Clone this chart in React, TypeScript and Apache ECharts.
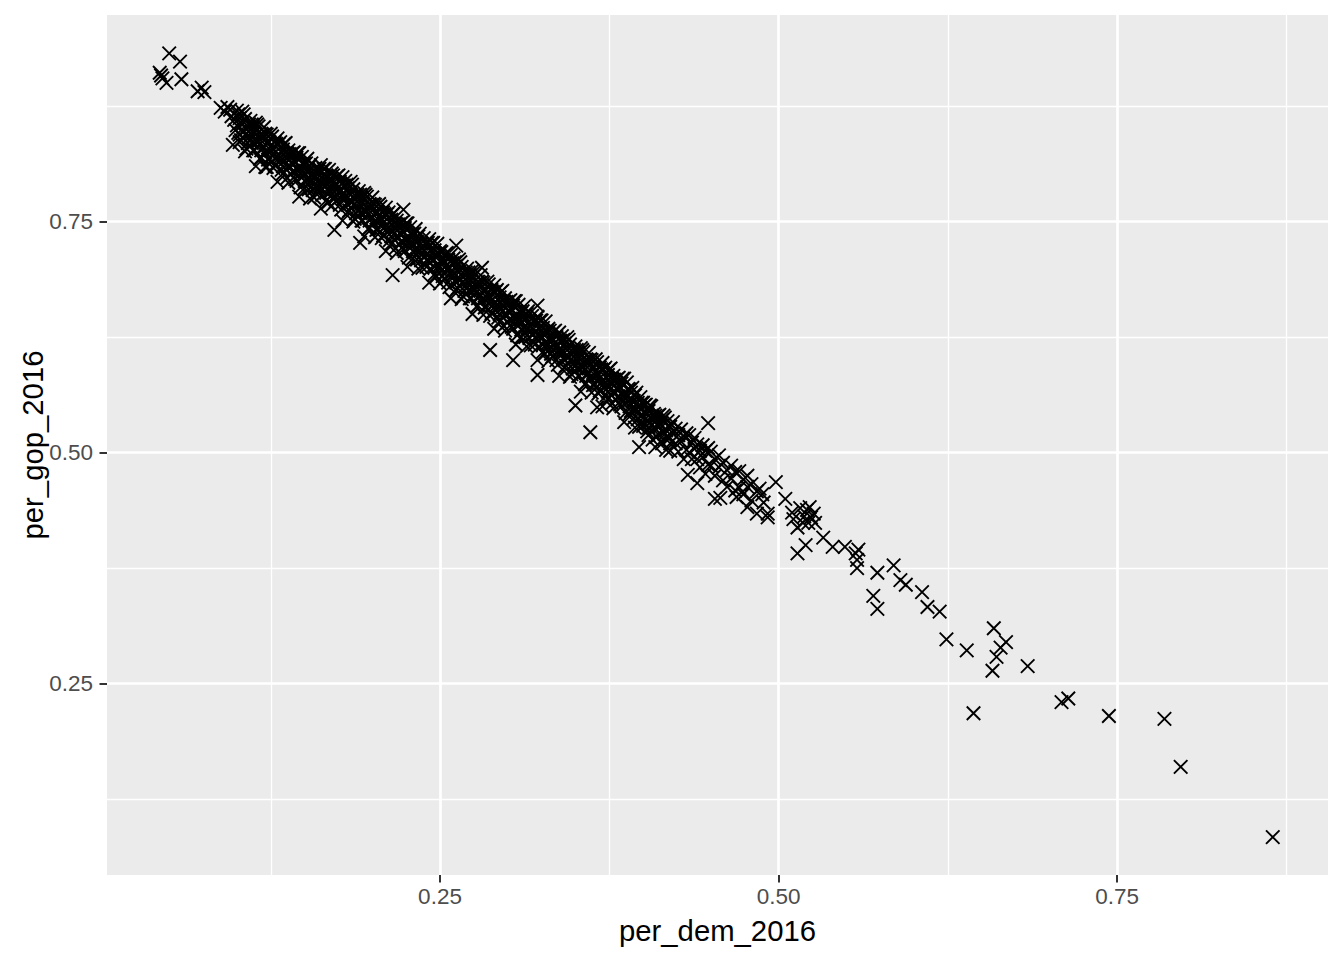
import React, { useEffect, useRef } from "react";
import * as echarts from "echarts";

// per_dem_2016 / per_gop_2016 pairs
const topCounties = [
  [0.043,0.911],[0.050,0.932],[0.058,0.923],[0.045,0.905],[0.048,0.900],[0.044,0.908],[0.059,0.904],
  [0.074,0.895],[0.076,0.890],[0.071,0.891],[0.088,0.873],[0.093,0.874],[0.095,0.871],[0.096,0.864],
  [0.097,0.833],[0.099,0.849],[0.091,0.869],[0.098,0.860],[0.121,0.809]
];

const bandA = [
  [0.100,0.870],[0.100,0.854],[0.102,0.862],[0.102,0.844],[0.102,0.836],[0.104,0.869],[0.104,0.855],
  [0.106,0.844],[0.106,0.861],[0.106,0.826],[0.108,0.853],[0.108,0.835],[0.110,0.859],[0.110,0.846],[0.110,0.839],
  [0.112,0.827],[0.112,0.852],[0.114,0.857],[0.114,0.837],[0.114,0.810],[0.116,0.853],[0.116,0.837],
  [0.118,0.845],[0.118,0.827],[0.118,0.819],[0.120,0.852],[0.120,0.838],[0.122,0.827],[0.122,0.844],[0.122,0.809],
  [0.124,0.836],[0.124,0.818],[0.126,0.842],[0.126,0.829],[0.126,0.822],[0.128,0.811],[0.128,0.836],
  [0.130,0.840],[0.130,0.820],[0.130,0.793],[0.132,0.836],[0.132,0.820],[0.134,0.828],[0.134,0.810],[0.134,0.802],
  [0.136,0.835],[0.136,0.821],[0.138,0.810],[0.138,0.827],[0.138,0.792],[0.140,0.819],[0.140,0.801],
  [0.142,0.825],[0.142,0.812],[0.142,0.805],[0.144,0.794],[0.144,0.819],[0.146,0.824],[0.146,0.804],[0.146,0.777],
  [0.148,0.820],[0.148,0.804],[0.150,0.812],[0.150,0.794],[0.150,0.786],[0.152,0.818],[0.152,0.804],
  [0.154,0.793],[0.154,0.810],[0.154,0.775],[0.156,0.802],[0.156,0.784],[0.158,0.808],[0.158,0.795],[0.158,0.788],
  [0.160,0.781],[0.160,0.806],[0.162,0.811],[0.162,0.791],[0.162,0.764],[0.164,0.807],[0.164,0.791],
  [0.166,0.799],[0.166,0.781],[0.166,0.773],[0.168,0.806],[0.168,0.792],[0.170,0.785],[0.170,0.802],[0.170,0.767],
  [0.172,0.793],[0.172,0.775],[0.172,0.741],[0.174,0.799],[0.174,0.786],[0.174,0.779],[0.176,0.768],[0.176,0.793],
  [0.178,0.798],[0.178,0.778],[0.178,0.751],[0.180,0.794],[0.180,0.778],[0.182,0.786],[0.182,0.768],[0.182,0.760],
  [0.184,0.793],[0.184,0.779],[0.186,0.768],[0.186,0.785],[0.186,0.750],[0.188,0.777],[0.188,0.759],
  [0.190,0.783],[0.190,0.770],[0.190,0.763],[0.191,0.727],[0.192,0.751],[0.192,0.776],[0.194,0.781],[0.194,0.761],
  [0.194,0.734],[0.196,0.777],[0.196,0.761],[0.198,0.769],[0.198,0.751],[0.198,0.743]
];

const bandA2 = [
  [0.101,0.866],[0.101,0.846],[0.103,0.857],[0.103,0.838],[0.105,0.866],[0.105,0.848],[0.107,0.850],[0.107,0.829],
  [0.109,0.855],[0.109,0.841],[0.111,0.855],[0.111,0.835],[0.113,0.846],[0.113,0.827],[0.115,0.855],[0.115,0.837],
  [0.117,0.839],[0.117,0.818],[0.119,0.844],[0.119,0.830],[0.121,0.845],[0.121,0.825],[0.123,0.836],[0.123,0.817],
  [0.125,0.845],[0.125,0.827],[0.127,0.829],[0.127,0.808],[0.129,0.834],[0.129,0.820],[0.131,0.834],[0.131,0.814],
  [0.133,0.825],[0.133,0.806],[0.135,0.834],[0.135,0.816],[0.137,0.818],[0.137,0.797],[0.139,0.823],[0.139,0.809],
  [0.141,0.824],[0.141,0.804],[0.143,0.815],[0.143,0.796],[0.145,0.824],[0.145,0.806],[0.147,0.808],[0.147,0.787],
  [0.149,0.813],[0.149,0.799],[0.151,0.813],[0.151,0.793],[0.153,0.804],[0.153,0.785],[0.155,0.813],[0.155,0.795],
  [0.157,0.797],[0.157,0.776],[0.159,0.802],[0.159,0.788],[0.161,0.807],[0.161,0.787],[0.163,0.798],[0.163,0.779],
  [0.165,0.807],[0.165,0.789],[0.167,0.791],[0.167,0.770],[0.169,0.796],[0.169,0.782],[0.171,0.800],[0.171,0.780],
  [0.173,0.791],[0.173,0.772],[0.175,0.800],[0.175,0.782],[0.177,0.784],[0.177,0.763],[0.179,0.789],[0.179,0.775],
  [0.181,0.790],[0.181,0.770],[0.183,0.781],[0.183,0.762],[0.185,0.790],[0.185,0.772],[0.187,0.774],[0.187,0.753],
  [0.189,0.779],[0.189,0.765],[0.191,0.779],[0.191,0.759],[0.193,0.770],[0.193,0.751],[0.195,0.779],[0.195,0.761],
  [0.197,0.763],[0.197,0.742],[0.199,0.768],[0.199,0.754]
];

const bandB = [
  [0.200,0.776],[0.200,0.762],[0.202,0.751],[0.202,0.768],[0.202,0.733],[0.204,0.760],[0.204,0.742],
  [0.206,0.766],[0.206,0.753],[0.206,0.746],[0.208,0.735],[0.208,0.760],[0.210,0.765],[0.210,0.745],[0.210,0.718],
  [0.212,0.760],[0.212,0.744],[0.214,0.752],[0.214,0.734],[0.214,0.726],[0.216,0.759],[0.216,0.745],[0.215,0.692],
  [0.218,0.734],[0.218,0.751],[0.218,0.716],[0.220,0.743],[0.220,0.725],[0.222,0.749],[0.222,0.736],[0.222,0.729],
  [0.223,0.763],[0.224,0.718],[0.224,0.743],[0.226,0.748],[0.226,0.728],[0.226,0.701],[0.228,0.744],[0.228,0.728],
  [0.230,0.736],[0.230,0.718],[0.230,0.710],[0.232,0.742],[0.232,0.728],[0.234,0.717],[0.234,0.734],[0.234,0.699],
  [0.236,0.726],[0.236,0.708],[0.238,0.732],[0.238,0.719],[0.238,0.712],[0.240,0.701],[0.240,0.726],
  [0.242,0.731],[0.242,0.711],[0.242,0.684],[0.244,0.727],[0.244,0.711],[0.246,0.719],[0.246,0.701],[0.246,0.693],
  [0.248,0.726],[0.248,0.712],[0.250,0.701],[0.250,0.718],[0.250,0.683],[0.252,0.709],[0.252,0.691],
  [0.254,0.715],[0.254,0.702],[0.254,0.695],[0.256,0.684],[0.256,0.709],[0.258,0.714],[0.258,0.694],[0.258,0.667],
  [0.260,0.710],[0.260,0.694],[0.262,0.702],[0.262,0.684],[0.262,0.676],[0.262,0.724],[0.264,0.709],[0.264,0.695],
  [0.266,0.684],[0.266,0.701],[0.266,0.666],[0.268,0.693],[0.268,0.675],[0.270,0.699],[0.270,0.686],[0.270,0.679],
  [0.272,0.667],[0.272,0.692],[0.274,0.697],[0.274,0.677],[0.274,0.650],[0.276,0.693],[0.276,0.677],
  [0.278,0.685],[0.278,0.667],[0.278,0.659],[0.280,0.692],[0.280,0.678],[0.281,0.700],[0.282,0.667],[0.282,0.684],
  [0.282,0.649],[0.284,0.676],[0.284,0.658],[0.286,0.682],[0.286,0.669],[0.286,0.662],[0.287,0.611],
  [0.288,0.651],[0.288,0.676],[0.290,0.681],[0.290,0.661],[0.290,0.634],[0.292,0.676],[0.292,0.660],
  [0.294,0.668],[0.294,0.650],[0.294,0.642],[0.296,0.675],[0.296,0.661],[0.298,0.650],[0.298,0.667],[0.298,0.632],
  [0.300,0.659],[0.300,0.641]
];

const bandB2 = [
  [0.201,0.769],[0.201,0.749],[0.203,0.760],[0.203,0.741],[0.205,0.769],[0.205,0.751],[0.207,0.753],[0.207,0.732],
  [0.209,0.758],[0.209,0.744],[0.211,0.758],[0.211,0.738],[0.213,0.749],[0.213,0.730],[0.215,0.758],[0.215,0.740],
  [0.217,0.742],[0.217,0.721],[0.219,0.747],[0.219,0.733],[0.221,0.748],[0.221,0.728],[0.223,0.739],[0.223,0.720],
  [0.225,0.748],[0.225,0.730],[0.227,0.732],[0.227,0.711],[0.229,0.737],[0.229,0.723],[0.231,0.737],[0.231,0.717],
  [0.233,0.728],[0.233,0.709],[0.235,0.737],[0.235,0.719],[0.237,0.721],[0.237,0.700],[0.239,0.726],[0.239,0.712],
  [0.241,0.727],[0.241,0.707],[0.243,0.718],[0.243,0.699],[0.245,0.727],[0.245,0.709],[0.247,0.711],[0.247,0.690],
  [0.249,0.716],[0.249,0.702],[0.251,0.717],[0.251,0.697],[0.253,0.707],[0.253,0.688],[0.255,0.716],[0.255,0.698],
  [0.257,0.700],[0.257,0.679],[0.259,0.705],[0.259,0.691],[0.261,0.706],[0.261,0.686],[0.263,0.697],[0.263,0.678],
  [0.265,0.706],[0.265,0.688],[0.267,0.690],[0.267,0.669],[0.269,0.695],[0.269,0.681],[0.271,0.695],[0.271,0.675],
  [0.273,0.686],[0.273,0.667],[0.275,0.695],[0.275,0.677],[0.277,0.679],[0.277,0.658],[0.279,0.684],[0.279,0.670],
  [0.281,0.685],[0.281,0.665],[0.283,0.676],[0.283,0.657],[0.285,0.685],[0.285,0.667],[0.287,0.669],[0.287,0.648],
  [0.289,0.674],[0.289,0.660],[0.291,0.674],[0.291,0.654],[0.293,0.665],[0.293,0.646],[0.295,0.674],[0.295,0.656],
  [0.297,0.658],[0.297,0.637],[0.299,0.663],[0.299,0.649]
];

const bandC = [
  [0.302,0.665],[0.302,0.652],[0.302,0.645],[0.304,0.634],[0.304,0.659],[0.304,0.600],[0.306,0.664],[0.306,0.644],
  [0.306,0.617],[0.308,0.660],[0.308,0.644],[0.310,0.651],[0.310,0.633],[0.310,0.625],[0.312,0.658],[0.312,0.644],
  [0.314,0.633],[0.314,0.650],[0.314,0.615],[0.316,0.642],[0.316,0.624],[0.318,0.648],[0.318,0.635],[0.318,0.628],
  [0.320,0.617],[0.320,0.642],[0.322,0.647],[0.322,0.627],[0.322,0.600],[0.322,0.659],[0.322,0.584],
  [0.324,0.643],[0.324,0.627],[0.326,0.635],[0.326,0.617],[0.326,0.609],[0.328,0.642],[0.328,0.628],
  [0.330,0.617],[0.330,0.634],[0.330,0.599],[0.332,0.625],[0.332,0.607],[0.334,0.631],[0.334,0.618],[0.334,0.611],
  [0.336,0.600],[0.336,0.625],[0.338,0.630],[0.338,0.610],[0.338,0.583],[0.340,0.626],[0.340,0.610],
  [0.342,0.618],[0.342,0.600],[0.342,0.592],[0.344,0.625],[0.344,0.611],[0.346,0.600],[0.346,0.617],[0.346,0.582],
  [0.348,0.609],[0.348,0.591],[0.350,0.615],[0.350,0.602],[0.350,0.595],[0.350,0.551],[0.352,0.583],[0.352,0.608],
  [0.354,0.613],[0.354,0.593],[0.354,0.566],[0.356,0.609],[0.356,0.593],[0.358,0.601],[0.358,0.583],[0.358,0.575],
  [0.360,0.608],[0.360,0.594],[0.362,0.583],[0.362,0.600],[0.362,0.565],[0.361,0.522],[0.364,0.592],[0.364,0.574],
  [0.366,0.598],[0.366,0.585],[0.366,0.578],[0.366,0.549],[0.368,0.567],[0.368,0.592],[0.370,0.597],[0.370,0.577],
  [0.370,0.550],[0.372,0.592],[0.372,0.576],[0.374,0.584],[0.374,0.566],[0.374,0.558],[0.376,0.591],[0.376,0.577],
  [0.378,0.566],[0.378,0.583],[0.378,0.548],[0.380,0.575],[0.380,0.557],[0.382,0.581],[0.382,0.568],[0.382,0.561],
  [0.384,0.550],[0.384,0.575],[0.386,0.580],[0.386,0.560],[0.386,0.533],[0.388,0.576],[0.388,0.560],
  [0.390,0.568],[0.390,0.550],[0.390,0.542],[0.392,0.570],[0.392,0.556],[0.394,0.545],[0.394,0.562],[0.394,0.527],
  [0.396,0.554],[0.396,0.536],[0.398,0.560],[0.398,0.547],[0.398,0.540],[0.397,0.506],[0.400,0.529],[0.400,0.554]
];

const bandC2 = [
  [0.301,0.664],[0.301,0.644],[0.303,0.655],[0.303,0.636],[0.305,0.664],[0.305,0.646],[0.307,0.648],[0.307,0.627],
  [0.309,0.653],[0.309,0.639],[0.311,0.653],[0.311,0.633],[0.313,0.644],[0.313,0.625],[0.315,0.653],[0.315,0.635],
  [0.317,0.637],[0.317,0.616],[0.319,0.642],[0.319,0.628],[0.321,0.643],[0.321,0.623],[0.323,0.634],[0.323,0.615],
  [0.325,0.643],[0.325,0.625],[0.327,0.627],[0.327,0.606],[0.329,0.632],[0.329,0.618],[0.331,0.632],[0.331,0.612],
  [0.333,0.623],[0.333,0.604],[0.335,0.632],[0.335,0.614],[0.337,0.616],[0.337,0.595],[0.339,0.621],[0.339,0.607],
  [0.341,0.622],[0.341,0.602],[0.343,0.613],[0.343,0.594],[0.345,0.622],[0.345,0.604],[0.347,0.606],[0.347,0.585],
  [0.349,0.611],[0.349,0.597],[0.351,0.611],[0.351,0.591],[0.353,0.602],[0.353,0.583],[0.355,0.611],[0.355,0.593],
  [0.357,0.595],[0.357,0.574],[0.359,0.600],[0.359,0.586],[0.361,0.601],[0.361,0.581],[0.363,0.592],[0.363,0.573],
  [0.365,0.601],[0.365,0.583],[0.367,0.585],[0.367,0.564],[0.369,0.590],[0.369,0.576],[0.371,0.590],[0.371,0.570],
  [0.373,0.581],[0.373,0.562],[0.375,0.590],[0.375,0.572],[0.377,0.574],[0.377,0.553],[0.379,0.579],[0.379,0.565],
  [0.381,0.580],[0.381,0.560],[0.383,0.571],[0.383,0.552],[0.385,0.580],[0.385,0.562],[0.387,0.564],[0.387,0.543],
  [0.389,0.569],[0.389,0.555],[0.391,0.565],[0.391,0.545],[0.393,0.556],[0.393,0.537],[0.395,0.565],[0.395,0.547],
  [0.397,0.549],[0.397,0.528],[0.399,0.554],[0.399,0.540],[0.401,0.551],[0.401,0.531],[0.403,0.542],[0.403,0.523],
  [0.405,0.551],[0.405,0.533],[0.407,0.535],[0.407,0.514],[0.409,0.540],[0.409,0.526],[0.411,0.540],[0.411,0.520],
  [0.413,0.531],[0.413,0.512],[0.415,0.540],[0.415,0.522],[0.417,0.524],[0.417,0.503],[0.419,0.529],[0.419,0.515]
];

const bandD = [
  [0.402,0.552],[0.402,0.537],[0.404,0.545],[0.404,0.527],[0.404,0.519],[0.406,0.550],[0.406,0.538],
  [0.408,0.527],[0.408,0.542],[0.409,0.506],[0.410,0.535],[0.410,0.517],[0.412,0.541],[0.412,0.528],
  [0.414,0.510],[0.414,0.535],[0.416,0.538],[0.416,0.520],[0.418,0.534],[0.418,0.518],[0.420,0.528],[0.420,0.510],
  [0.420,0.502],[0.422,0.533],[0.422,0.521],[0.424,0.510],[0.424,0.526],[0.426,0.519],[0.426,0.501],
  [0.428,0.525],[0.428,0.512],[0.430,0.493],[0.430,0.518],[0.432,0.521],[0.432,0.503],[0.433,0.476],
  [0.434,0.519],[0.434,0.500],[0.436,0.511],[0.436,0.493],[0.438,0.516],[0.438,0.504],[0.440,0.493],[0.440,0.509],
  [0.440,0.467],[0.442,0.502],[0.442,0.484],[0.444,0.508],[0.444,0.495],[0.446,0.477],[0.446,0.502],
  [0.448,0.505],[0.448,0.487],[0.448,0.532],[0.450,0.501],[0.450,0.486],[0.453,0.493],[0.453,0.475],[0.453,0.450],
  [0.456,0.497],[0.456,0.484],[0.457,0.451],[0.459,0.470],[0.459,0.489],[0.462,0.481],[0.462,0.463],
  [0.465,0.486],[0.465,0.472],[0.468,0.459],[0.468,0.479],[0.469,0.452],[0.471,0.480],[0.471,0.462],
  [0.474,0.471],[0.474,0.455],[0.477,0.475],[0.477,0.463],[0.477,0.441],[0.480,0.448],[0.480,0.466],
  [0.484,0.458],[0.484,0.434],[0.486,0.461],[0.488,0.455],[0.489,0.446],[0.492,0.430],[0.492,0.434],[0.498,0.468],
  [0.505,0.450],[0.510,0.435],[0.516,0.440],[0.521,0.438],[0.524,0.430],[0.526,0.434],[0.518,0.424],[0.514,0.419],
  [0.522,0.424],[0.527,0.424],[0.511,0.428],[0.519,0.431],[0.523,0.441]
];

const tailCounties = [
  [0.514,0.391],[0.520,0.400],[0.533,0.408],[0.540,0.398],[0.549,0.398],[0.557,0.391],[0.559,0.395],[0.558,0.384],
  [0.558,0.375],[0.573,0.370],[0.585,0.378],[0.590,0.362],[0.594,0.357],[0.570,0.345],[0.573,0.331],[0.606,0.349],
  [0.610,0.333],[0.619,0.328],[0.624,0.298],[0.639,0.286],[0.659,0.310],[0.668,0.295],[0.664,0.289],[0.661,0.279],
  [0.658,0.264],[0.684,0.269],[0.644,0.218],[0.709,0.230],[0.714,0.234],[0.744,0.215],[0.785,0.212],[0.797,0.160],
  [0.865,0.084]
];

const majorTicks = [0.25, 0.5, 0.75];
const minorTicks = [0.125, 0.375, 0.625, 0.875];
const xTitle = "per_dem_2016";
const yTitle = "per_gop_2016";

const FONT = "'Liberation Sans', Arial, Helvetica, sans-serif";

export default function App() {
  const ref = useRef<HTMLDivElement>(null);
  useEffect(() => {
    if (!ref.current) return;
    const chart = echarts.init(ref.current, null, { renderer: "svg" });
    const data = [
      ...topCounties, ...bandA, ...bandA2, ...bandB, ...bandB2,
      ...bandC, ...bandC2, ...bandD, ...tailCounties,
    ];
    const xMin = 0.00406, xMax = 0.9058, yMin = 0.043, yMax = 0.9735;
    const fmt = (v: number) => v.toFixed(2);
    const majorAxis = (isX: boolean) => ({
      type: "value",
      min: isX ? xMin : yMin,
      max: isX ? xMax : yMax,
      position: isX ? "bottom" : "left",
      axisLine: { show: false },
      axisTick: { show: true, customValues: majorTicks, length: 7.5, lineStyle: { color: "#333333", width: 2 } },
      axisLabel: {
        show: true, customValues: majorTicks, formatter: fmt, color: "#4D4D4D",
        fontSize: 22.5, fontFamily: FONT, margin: isX ? 10 : 14,
      },
      splitLine: { show: true, lineStyle: { color: "#FFFFFF", width: 2.7 } },
      name: isX ? xTitle : yTitle,
      nameLocation: "middle",
      nameGap: isX ? 41 : 60,
      nameRotate: isX ? 0 : 90,
      nameMoveOverlap: false,
      nameTextStyle: { color: "#000000", fontSize: 29.3, fontFamily: FONT },
    });
    const minorAxis = (isX: boolean) => ({
      type: "value",
      min: isX ? xMin : yMin,
      max: isX ? xMax : yMax,
      position: isX ? "bottom" : "left",
      axisLine: { show: false },
      axisTick: { show: false, customValues: minorTicks },
      axisLabel: { show: false, customValues: minorTicks },
      splitLine: { show: true, lineStyle: { color: "#FFFFFF", width: 1.35 } },
    });
    chart.setOption({
      animation: false,
      backgroundColor: "#FFFFFF",
      grid: {
        left: 107, right: 16, top: 15, bottom: 85,
        show: true, backgroundColor: "#EBEBEB", borderWidth: 0,
        outerBoundsMode: "none",
      },
      xAxis: [minorAxis(true), majorAxis(true)],
      yAxis: [minorAxis(false), majorAxis(false)],
      series: [
        {
          type: "scatter",
          xAxisIndex: 1,
          yAxisIndex: 1,
          data,
          symbol: "path://M0,0L10,10M0,10L10,0",
          symbolSize: 13.5,
          large: false,
          silent: true,
          itemStyle: { color: "none", borderColor: "#000000", borderWidth: 1.9, opacity: 1 },
          emphasis: { disabled: true },
        },
      ],
    });
    return () => chart.dispose();
  }, []);
  return (
    <div
      ref={ref}
      style={{ position: "absolute", left: 0, top: 0, width: 1344, height: 960 }}
    />
  );
}
